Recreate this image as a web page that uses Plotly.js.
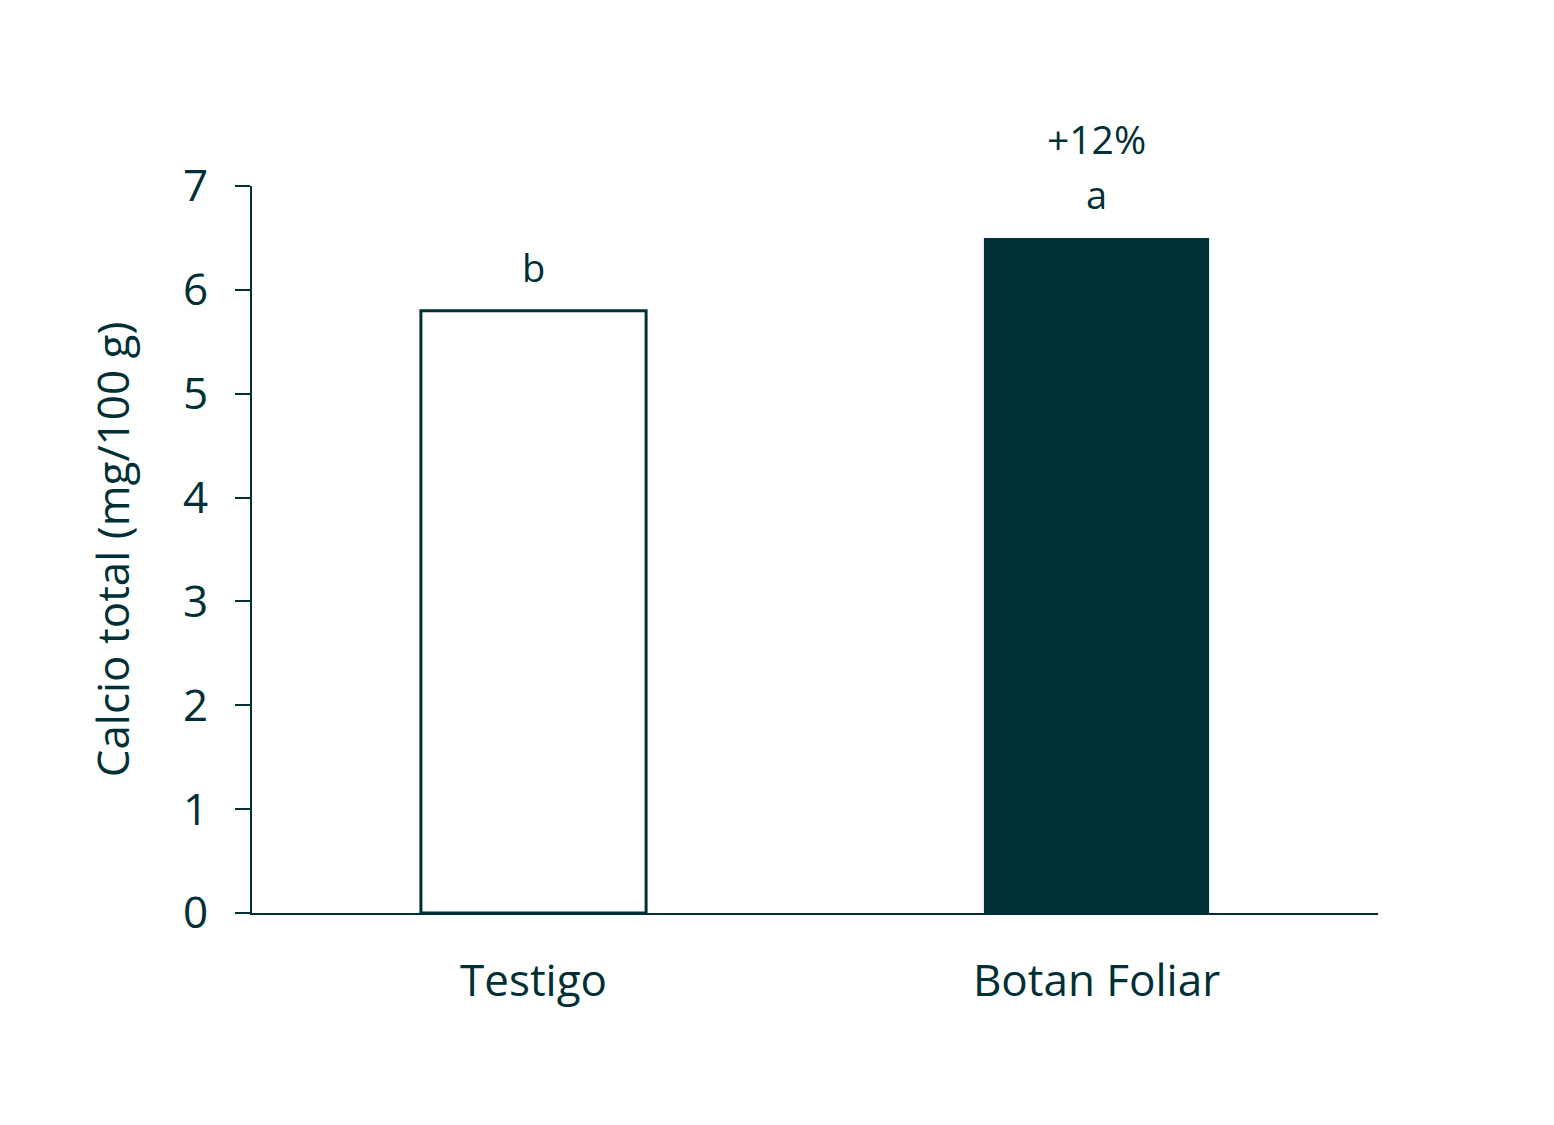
<!DOCTYPE html>
<html>
<head>
<meta charset="utf-8">
<script src="https://cdn.plot.ly/plotly-3.0.1.min.js"></script>
<style>html,body{margin:0;padding:0;background:#fff;}</style>
</head>
<body>
<div id="chart" style="width:1554px;height:1125px;"></div>
<script>
const categories = ["Testigo", "Botan Foliar"];
const values = [5.8, 6.5];
const letters = ["b", "a"];
const increaseLabel = "+12%";
const yTicks = [0, 1, 2, 3, 4, 5, 6, 7];

const C = "#002F36";
const FONT = "Open Sans, Noto Sans, sans-serif";

const trace = {
  type: "bar",
  x: categories,
  y: values,
  marker: {
    color: ["#ffffff", C],
    line: {color: C, width: [3, 0]}
  },
  width: 0.4,
  hoverinfo: "skip"
};

const annotations = categories.map((c, i) => ({
  x: c, y: values[i], xref: "x", yref: "y",
  text: letters[i], showarrow: false,
  yanchor: "middle", yshift: 44,
  font: {family: FONT, size: 38, color: C}
}));
annotations.push({
  x: categories[1], y: values[1], xref: "x", yref: "y",
  text: increaseLabel, showarrow: false,
  yanchor: "middle", yshift: 99,
  font: {family: FONT, size: 39, color: C}
});

const layout = {
  width: 1554, height: 1125,
  margin: {l: 252, r: 176, t: 186, b: 212},
  paper_bgcolor: "#fff", plot_bgcolor: "#fff",
  showlegend: false,
  font: {family: FONT, color: C},
  bargap: 0.6,
  xaxis: {
    type: "category",
    showline: true, linecolor: C, linewidth: 2,
    ticks: "", showgrid: false, zeroline: false,
    tickfont: {family: FONT, size: 44, color: C},
    ticklabelstandoff: 28
  },
  yaxis: {
    range: [0, 7],
    tickvals: yTicks,
    showline: true, linecolor: C, linewidth: 2,
    ticks: "outside", ticklen: 15, tickwidth: 2, tickcolor: C,
    showgrid: false, zeroline: false,
    tickfont: {family: FONT, size: 44, color: C},
    ticklabelstandoff: 18,
    title: {text: "Calcio total (mg/100 g)", font: {family: FONT, size: 44, color: C}, standoff: 40}
  },
  annotations: annotations
};

Plotly.newPlot("chart", [trace], layout, {displayModeBar: false, staticPlot: true});
</script>
</body>
</html>
